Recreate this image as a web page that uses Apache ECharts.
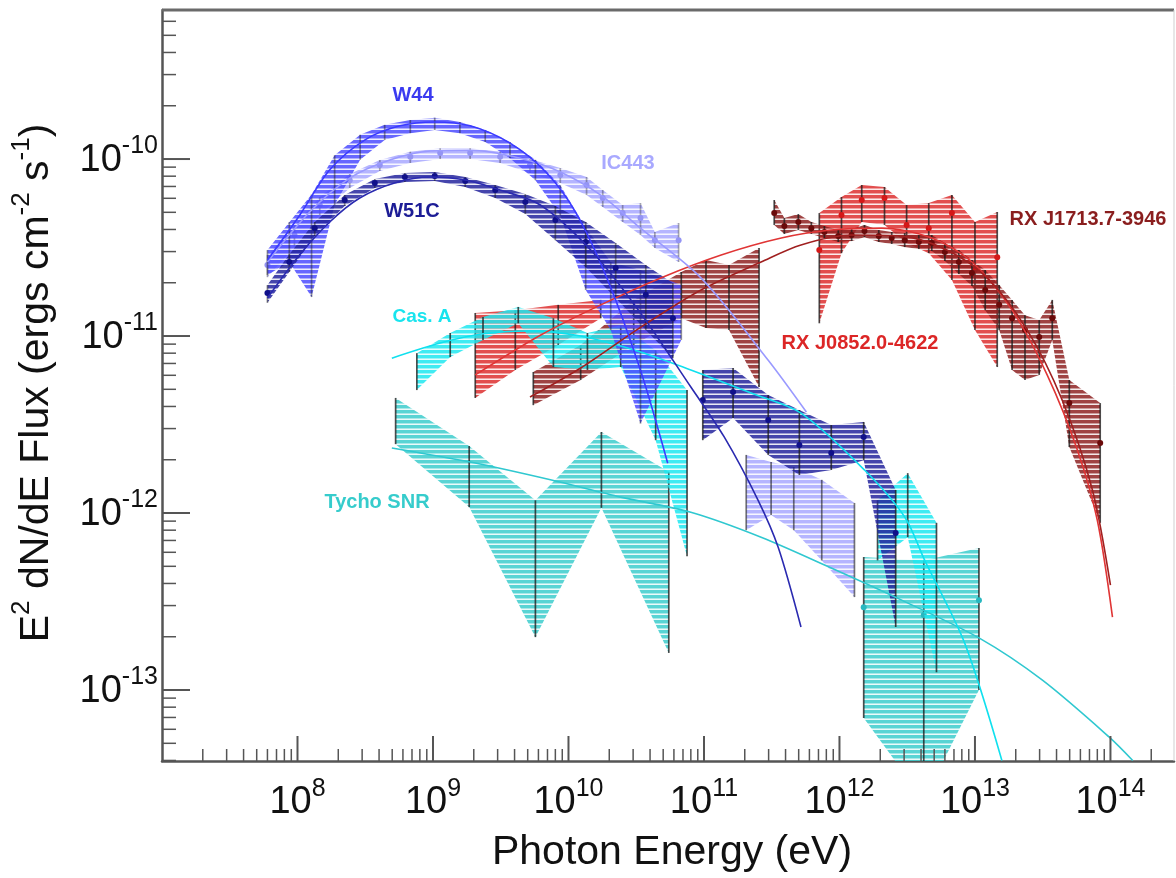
<!DOCTYPE html>
<html>
<head>
<meta charset="utf-8">
<title>Gamma-ray spectra of supernova remnants</title>
<script src="https://cdn.jsdelivr.net/npm/echarts@6/dist/echarts.min.js"></script>
<style>
  html, body { margin: 0; padding: 0; background: #ffffff; }
  #chart { width: 1176px; height: 878px; }
</style>
</head>
<body>
<div id="chart"></div>
<script>
// ---------- axis ranges ----------
const X_MIN = 1e7;
const X_MAX = Math.pow(10, 14.469);
const Y_MIN = Math.pow(10, -13.401);
const Y_MAX = Math.pow(10, -9.158);

// decade tick labels (exponents of 10)
const xTickExponents = [8, 9, 10, 11, 12, 13, 14];
const yTickExponents = [-10, -11, -12, -13];

// ---------- W44 (Fermi-LAT) ----------
const w44Energy = [6.0e7, 8.7e7, 1.27e8, 1.88e8, 2.9e8, 4.4e8, 6.8e8, 1.03e9, 1.58e9, 2.43e9, 3.7e9, 5.7e9, 8.7e9, 1.34e10, 2.05e10, 3.4e10, 6.8e10];
const w44Upper  = [3.06e-11, 4.4e-11, 6.3e-11, 1.05e-10, 1.37e-10, 1.56e-10, 1.66e-10, 1.71e-10, 1.62e-10, 1.46e-10, 1.25e-10, 9.9e-11, 7.1e-11, 4.1e-11, 2.62e-11, 2.36e-11, 1.94e-11];
const w44Lower  = [2.21e-11, 2.62e-11, 1.66e-11, 5.5e-11, 9.9e-11, 1.28e-10, 1.40e-10, 1.46e-10, 1.40e-10, 1.25e-10, 1.01e-10, 7.6e-11, 4.8e-11, 1.82e-11, 1.08e-11, 3.2e-12, 9.5e-12];
const w44ModelEnergy = [6.0e7, 1.035e8, 1.73e8, 3.13e8, 5.7e8, 1.03e9, 1.88e9, 3.7e9, 6.8e9, 1.13e10, 1.95e10, 3.4e10, 5.4e10];
const w44ModelFlux   = [2.69e-11, 4.8e-11, 8.7e-11, 1.28e-10, 1.54e-10, 1.62e-10, 1.54e-10, 1.23e-10, 8.45e-11, 5.0e-11, 2.07e-11, 6.4e-12, 1.91e-12];

// ---------- IC443 (Fermi-LAT + Cherenkov) ----------
const ic443Energy = [6.0e7, 9.5e7, 1.46e8, 2.43e8, 4.05e8, 6.8e8, 1.13e9, 1.88e9, 3.13e9, 5.2e9, 8.7e9, 1.36e10, 1.79e10, 2.51e10, 3.4e10, 4.34e10, 6.5e10];
const ic443Flux   = [2.52e-11, 3.72e-11, 5.5e-11, 7.6e-11, 9.25e-11, 1.03e-10, 1.08e-10, 1.08e-10, 1.03e-10, 9.25e-11, 8.12e-11, 7.13e-11, 6.02e-11, 4.95e-11, 4.64e-11, 3.48e-11, 3.48e-11];
const ic443Upper  = [2.87e-11, 4.24e-11, 6.1e-11, 8.23e-11, 9.87e-11, 1.10e-10, 1.15e-10, 1.15e-10, 1.10e-10, 1.0e-10, 8.89e-11, 7.91e-11, 6.68e-11, 5.5e-11, 5.64e-11, 3.87e-11, 4.35e-11];
const ic443Lower  = [2.15e-11, 3.18e-11, 4.83e-11, 6.86e-11, 8.56e-11, 9.5e-11, 1.0e-10, 1.0e-10, 9.5e-11, 8.33e-11, 7.32e-11, 6.26e-11, 5.36e-11, 4.41e-11, 3.72e-11, 3.14e-11, 2.62e-11];
const ic443TevEnergy = [2.05e11, 3.13e11, 4.6e11, 7.4e11, 1.29e12];
const ic443TevUpper  = [2.13e-12, 1.94e-12, 1.82e-12, 1.54e-12, 1.14e-12];
const ic443TevLower  = [8.0e-13, 9.75e-13, 8.0e-13, 5.4e-13, 3.35e-13];
const ic443ModelEnergy = [6.0e7, 1.23e8, 2.43e8, 4.8e8, 9.5e8, 1.88e9, 4.4e9, 8.7e9, 1.73e10, 3.4e10, 9.5e10, 2.98e11, 5.7e11];
const ic443ModelFlux   = [2.62e-11, 5.02e-11, 7.8e-11, 9.87e-11, 1.11e-10, 1.12e-10, 1.01e-10, 8.45e-11, 6.26e-11, 4.07e-11, 2.13e-11, 7.3e-12, 3.72e-12];

// ---------- W51C (Fermi-LAT + MAGIC) ----------
const w51cEnergy = [6.0e7, 8.7e7, 1.34e8, 2.23e8, 3.72e8, 6.2e8, 1.03e9, 1.73e9, 2.88e9, 4.8e9, 8.0e9, 1.34e10, 2.23e10, 3.72e10, 5.9e10];
const w51cFlux   = [1.75e-11, 2.62e-11, 4.07e-11, 5.87e-11, 7.32e-11, 7.91e-11, 8.02e-11, 7.51e-11, 6.68e-11, 5.71e-11, 4.52e-11, 3.40e-11, 2.42e-11, 1.71e-11, 1.26e-11];
const w51cUpper  = [1.94e-11, 2.90e-11, 4.41e-11, 6.26e-11, 7.71e-11, 8.33e-11, 8.45e-11, 7.91e-11, 7.13e-11, 6.34e-11, 5.43e-11, 4.41e-11, 3.35e-11, 2.52e-11, 1.99e-11];
const w51cLower  = [1.54e-11, 2.30e-11, 3.67e-11, 5.43e-11, 6.86e-11, 7.41e-11, 7.51e-11, 6.95e-11, 6.02e-11, 4.89e-11, 3.48e-11, 2.45e-11, 1.64e-11, 1.08e-11, 7.5e-12];
const w51cTevEnergy = [9.8e10, 1.64e11, 2.98e11, 5.06e11, 8.7e11, 1.51e12, 2.6e12];
const w51cTevFlux   = [4.35e-12, 4.83e-12, 3.35e-12, 2.42e-12, 2.18e-12, 2.69e-12, 7.7e-13];
const w51cTevUpper  = [6.43e-12, 6.6e-12, 4.64e-12, 3.82e-12, 3.14e-12, 3.27e-12, 1.35e-12];
const w51cTevLower  = [2.58e-12, 3.44e-12, 2.13e-12, 1.64e-12, 1.75e-12, 1.99e-12, 2.27e-13];
const w51cModelEnergy = [6.0e7, 1.035e8, 1.73e8, 2.88e8, 5.2e8, 9.5e8, 1.73e9, 3.13e9, 6.2e9, 1.46e10, 3.4e10, 8.0e10, 1.41e11, 2.51e11, 3.53e11, 5.2e11];
const w51cModelFlux   = [1.64e-11, 2.87e-11, 4.41e-11, 6.02e-11, 7.32e-11, 7.91e-11, 7.61e-11, 6.68e-11, 5.5e-11, 3.06e-11, 1.35e-11, 5.15e-12, 2.69e-12, 1.18e-12, 6.4e-13, 2.27e-13];

// ---------- Cas A ----------
const casAEnergy = [7.6e8, 1.34e9, 2.34e9, 4.26e9, 7.74e9, 1.38e10, 2.43e10, 4.4e10, 7.5e10];
const casAUpper  = [8.0e-12, 1.04e-11, 1.28e-11, 1.46e-11, 1.26e-11, 1.04e-11, 1.15e-11, 8.3e-12, 4.95e-12];
const casALower  = [4.95e-12, 7.6e-12, 9.5e-12, 1.18e-11, 6.68e-12, 6.43e-12, 6.68e-12, 2.58e-12, 5.7e-13];
const casATevEnergy = [1.91e12, 3.19e12, 5.2e12];
const casATevUpper  = [1.18e-12, 1.68e-12, 8.8e-13];
const casATevLower  = [5.4e-13, 7.3e-13, 1.26e-13];
const casAModelEnergy = [4.97e8, 1.13e9, 2.34e9, 5.2e9, 1.23e10, 3.4e10, 8.0e10, 2.23e11, 5.2e11, 1.53e12, 3.03e12, 4.26e12, 8.4e12, 1.58e13];
const casAModelFlux   = [7.5e-12, 9.13e-12, 1.03e-11, 1.07e-11, 1.0e-11, 8.13e-12, 6.43e-12, 4.76e-12, 3.67e-12, 1.75e-12, 9.5e-13, 5.4e-13, 1.84e-13, 4.0e-14];

// ---------- Tycho SNR ----------
const tychoEnergy = [5.3e8, 1.85e9, 5.7e9, 1.75e10, 5.5e10];
const tychoUpper  = [4.47e-12, 2.39e-12, 1.18e-12, 2.87e-12, 1.71e-12];
const tychoLower  = [2.45e-12, 1.08e-12, 1.99e-13, 1.07e-12, 1.62e-13];
const tychoTevEnergy = [1.51e12, 4.19e12, 1.07e13];
const tychoTevFlux   = [2.94e-13, 2.65e-13, 3.22e-13];
const tychoTevUpper  = [5.64e-13, 5.4e-13, 6.34e-13];
const tychoTevLower  = [6.95e-14, 2.39e-14, 1.0e-13];
const tychoModelEnergy = [4.97e8, 1.88e9, 7.36e9, 2.43e10, 8.0e10, 2.64e11, 8.7e11, 2.88e12, 1.07e13, 3.13e13, 9.8e13, 1.46e14];
const tychoModelFlux   = [2.33e-12, 1.94e-12, 1.54e-12, 1.23e-12, 1.01e-12, 7.3e-13, 4.89e-13, 3.22e-13, 1.97e-13, 1.14e-13, 5.42e-14, 4.0e-14];

// ---------- RX J0852.0-4622 ----------
const j0852Energy = [2.05e9, 4.05e9, 8.4e9, 1.73e10];
const j0852Upper  = [1.35e-11, 1.40e-11, 1.50e-11, 1.60e-11];
const j0852Lower  = [4.47e-12, 6.43e-12, 8.9e-12, 1.26e-11];
const j0852TevEnergy = [7.1e11, 1.035e12, 1.46e12, 2.15e12, 3.13e12, 4.56e12, 6.76e12, 1.0e13, 1.46e13];
const j0852TevFlux   = [3.06e-11, 4.83e-11, 5.87e-11, 6.02e-11, 4.24e-11, 4.07e-11, 4.95e-11, 2.36e-11, 2.79e-11];
const j0852TevUpper  = [4.95e-11, 6.1e-11, 7.13e-11, 6.95e-11, 5.5e-11, 5.64e-11, 6.26e-11, 4.41e-11, 5.02e-11];
const j0852TevLower  = [1.18e-11, 2.94e-11, 4.41e-11, 4.24e-11, 3.35e-11, 2.94e-11, 2.07e-11, 1.08e-11, 6.68e-12];
const j0852ModelEnergy = [2.05e9, 6.2e9, 1.73e10, 4.8e10, 1.34e11, 3.72e11, 8.7e11, 2.05e12, 4.8e12, 9.5e12, 1.88e13, 3.41e13, 5.7e13, 8.0e13, 1.035e14];
const j0852ModelFlux   = [6.03e-12, 1.01e-11, 1.50e-11, 2.13e-11, 2.87e-11, 3.58e-11, 3.97e-11, 4.07e-11, 3.58e-11, 2.62e-11, 1.40e-11, 6.03e-12, 2.27e-12, 9.1e-13, 2.58e-13];

// ---------- RX J1713.7-3946 ----------
const j1713Energy = [5.5e9, 1.23e10, 3.03e10, 6.8e10, 1.035e11, 1.53e11, 2.55e11];
const j1713Upper  = [6.26e-12, 8.9e-12, 1.60e-11, 2.30e-11, 2.69e-11, 2.52e-11, 3.14e-11];
const j1713Lower  = [4.07e-12, 5.64e-12, 8.9e-12, 1.26e-11, 1.11e-11, 1.08e-11, 5.15e-12];
const j1713TevEnergy = [3.30e11, 3.92e11, 4.97e11, 6.2e11, 7.74e11, 9.8e11, 1.23e12, 1.53e12, 1.95e12, 2.43e12, 3.03e12, 3.85e12, 4.8e12, 6.0e12, 7.6e12, 9.5e12, 1.19e13, 1.51e13, 1.88e13, 2.34e13, 2.98e13, 3.72e13, 4.97e13, 8.4e13];
const j1713TevFlux   = [4.95e-11, 4.18e-11, 4.41e-11, 4.07e-11, 3.87e-11, 3.67e-11, 3.72e-11, 3.92e-11, 3.67e-11, 3.58e-11, 3.48e-11, 3.40e-11, 3.35e-11, 2.98e-11, 2.62e-11, 2.27e-11, 1.82e-11, 1.50e-11, 1.26e-11, 1.08e-11, 9.87e-12, 1.26e-11, 4.18e-12, 2.49e-12];
const j1713TevUpper  = [5.87e-11, 4.64e-11, 4.89e-11, 4.41e-11, 4.18e-11, 3.97e-11, 4.02e-11, 4.24e-11, 3.97e-11, 3.87e-11, 3.82e-11, 3.72e-11, 3.72e-11, 3.35e-11, 3.06e-11, 2.69e-11, 2.36e-11, 1.94e-11, 1.60e-11, 1.31e-11, 1.23e-11, 1.60e-11, 5.64e-12, 4.18e-12];
const j1713TevLower  = [4.24e-11, 3.77e-11, 3.97e-11, 3.77e-11, 3.58e-11, 3.40e-11, 3.44e-11, 3.62e-11, 3.40e-11, 3.31e-11, 3.18e-11, 3.10e-11, 3.02e-11, 2.65e-11, 2.24e-11, 1.92e-11, 1.40e-11, 1.08e-11, 6.43e-12, 5.64e-12, 6.03e-12, 9.5e-12, 2.36e-12, 8.8e-13];
const j1713ModelEnergy = [5.2e9, 1.23e10, 3.4e10, 9.5e10, 2.64e11, 5.2e11, 1.23e12, 2.88e12, 6.2e12, 1.23e13, 2.43e13, 4.4e13, 7.36e13, 1.0e14];
const j1713ModelFlux   = [4.52e-12, 6.6e-12, 1.12e-11, 1.82e-11, 2.62e-11, 3.27e-11, 3.72e-11, 3.67e-11, 3.06e-11, 2.13e-11, 1.08e-11, 4.35e-12, 1.35e-12, 3.92e-13];

// ---------- styling ----------
const FONT = '"Liberation Sans", Arial, Helvetica, sans-serif';
const COLORS = {
  w44:   { band: '#4c4cff', line: '#3b3bff', dot: '#2b2bd8', text: '#3a3af0' },
  ic443: { band: '#a8a8ff', line: '#9a9aff', dot: '#9494f4', text: '#a9a9ff' },
  w51c:  { band: '#25259e', line: '#2a2ab0', dot: '#10108a', text: '#1d1d96' },
  casA:  { band: '#1ee8f0', line: '#10e0ee', dot: '#10d8e6', text: '#18e4ee' },
  tycho: { band: '#3ccccc', line: '#30c8d0', dot: '#28b8c0', text: '#36cccc' },
  j0852: { band: '#dd2f2f', line: '#e03535', dot: '#d41818', text: '#dc2626' },
  j1713: { band: '#8e2222', line: '#a02020', dot: '#6a0a0a', text: '#8a1e1e' }
};

// horizontally striped fill used for the error bands
const hatchCache = {};
function hatch(color) {
  if (hatchCache[color]) return hatchCache[color];
  const c = document.createElement('canvas');
  c.width = 8; c.height = 5;
  const g = c.getContext('2d');
  g.fillStyle = color;
  g.globalAlpha = 0.85; g.fillRect(0, 0, 8, 3);
  g.globalAlpha = 0.45; g.fillRect(0, 3, 8, 1);
  g.globalAlpha = 0.1;  g.fillRect(0, 4, 8, 1);
  hatchCache[color] = { image: c, repeat: 'repeat' };
  return hatchCache[color];
}

// error band (upper tips forward, lower tips back) + error bars + optional points
function bandSeries(name, energy, upper, lower, center, col, barOpacity) {
  const barAlpha = barOpacity == null ? 0.78 : barOpacity;
  return {
    type: 'custom',
    name: name,
    clip: true,
    z: 2,
    silent: true,
    data: energy.map((e, i) => [e, lower[i], upper[i]]),
    encode: { x: 0, y: [1, 2] },
    renderItem: function (params, api) {
      const i = params.dataIndex;
      const children = [];
      if (i === 0) {
        const pts = [];
        for (let k = 0; k < energy.length; k++) pts.push(api.coord([energy[k], upper[k]]));
        for (let k = energy.length - 1; k >= 0; k--) pts.push(api.coord([energy[k], lower[k]]));
        children.push({ type: 'polygon', shape: { points: pts }, style: { fill: hatch(col.band) } });
      }
      const top = api.coord([energy[i], upper[i]]);
      const bot = api.coord([energy[i], lower[i]]);
      children.push({
        type: 'line',
        shape: { x1: top[0], y1: top[1], x2: bot[0], y2: bot[1] },
        style: { stroke: '#1c1c1c', lineWidth: 1.7, opacity: barAlpha }
      });
      if (center) {
        const c = api.coord([energy[i], center[i]]);
        children.push({ type: 'circle', shape: { cx: c[0], cy: c[1], r: 3 }, style: { fill: col.dot } });
      }
      return { type: 'group', children: children };
    }
  };
}

function modelSeries(name, energy, flux, col) {
  return {
    type: 'line',
    name: name,
    z: 3,
    silent: true,
    smooth: 0.3,
    symbol: 'none',
    showSymbol: false,
    clip: true,
    lineStyle: { color: col.line, width: 1.6 },
    data: energy.map((e, i) => [e, flux[i]])
  };
}

const chart = echarts.init(document.getElementById('chart'), null, { renderer: 'canvas' });

const hiddenAxisParts = {
  axisTick: { show: false },
  axisLabel: { show: false },
  splitLine: { show: false },
  minorTick: { show: false },
  minorSplitLine: { show: false }
};

const option = {
  animation: false,
  backgroundColor: '#ffffff',
  grid: { left: 162, right: 2, top: 10, bottom: 117, containLabel: false },
  xAxis: Object.assign({
    type: 'log', logBase: 10, min: X_MIN, max: X_MAX,
    axisLine: { show: true, onZero: false, lineStyle: { color: '#555555', width: 2.5 } }
  }, hiddenAxisParts),
  yAxis: Object.assign({
    type: 'log', logBase: 10, min: Y_MIN, max: Y_MAX,
    axisLine: { show: true, onZero: false, lineStyle: { color: '#555555', width: 2.5 } }
  }, hiddenAxisParts),
  series: [
    bandSeries('Tycho SNR', tychoEnergy, tychoUpper, tychoLower, null, COLORS.tycho),
    bandSeries('Tycho SNR TeV', tychoTevEnergy, tychoTevUpper, tychoTevLower, tychoTevFlux, COLORS.tycho),
    bandSeries('RX J0852.0-4622', j0852Energy, j0852Upper, j0852Lower, null, COLORS.j0852),
    bandSeries('RX J1713.7-3946', j1713Energy, j1713Upper, j1713Lower, null, COLORS.j1713),
    bandSeries('Cas A', casAEnergy, casAUpper, casALower, null, COLORS.casA),
    bandSeries('RX J0852.0-4622 TeV', j0852TevEnergy, j0852TevUpper, j0852TevLower, j0852TevFlux, COLORS.j0852),
    bandSeries('RX J1713.7-3946 TeV', j1713TevEnergy, j1713TevUpper, j1713TevLower, j1713TevFlux, COLORS.j1713),
    bandSeries('IC443', ic443Energy, ic443Upper, ic443Lower, ic443Flux, COLORS.ic443, 0.35),
    bandSeries('IC443 TeV', ic443TevEnergy, ic443TevUpper, ic443TevLower, null, COLORS.ic443, 0.6),
    bandSeries('W44', w44Energy, w44Upper, w44Lower, null, COLORS.w44, 0.45),
    bandSeries('W51C', w51cEnergy, w51cUpper, w51cLower, w51cFlux, COLORS.w51c, 0.5),
    bandSeries('Cas A TeV', casATevEnergy, casATevUpper, casATevLower, null, COLORS.casA),
    bandSeries('W51C TeV', w51cTevEnergy, w51cTevUpper, w51cTevLower, w51cTevFlux, COLORS.w51c),

    modelSeries('Tycho SNR model', tychoModelEnergy, tychoModelFlux, COLORS.tycho),
    modelSeries('Cas A model', casAModelEnergy, casAModelFlux, COLORS.casA),
    modelSeries('RX J0852.0-4622 model', j0852ModelEnergy, j0852ModelFlux, COLORS.j0852),
    modelSeries('RX J1713.7-3946 model', j1713ModelEnergy, j1713ModelFlux, COLORS.j1713),
    modelSeries('IC443 model', ic443ModelEnergy, ic443ModelFlux, COLORS.ic443),
    modelSeries('W44 model', w44ModelEnergy, w44ModelFlux, COLORS.w44),
    modelSeries('W51C model', w51cModelEnergy, w51cModelFlux, COLORS.w51c)
  ]
};
chart.setOption(option);

// ---------- axes decorations: frame, log ticks, labels, titles ----------
const measureCtx = document.createElement('canvas').getContext('2d');
function textWidth(str, size, weight) {
  measureCtx.font = (weight || 'normal') + ' ' + size + 'px ' + FONT;
  return measureCtx.measureText(str).width;
}
function gLine(x1, y1, x2, y2, color, width) {
  return { type: 'line', silent: true, z: 50, shape: { x1: x1, y1: y1, x2: x2, y2: y2 }, style: { stroke: color, lineWidth: width } };
}
function gText(x, y, str, size, color, align, vAlign, weight) {
  const w = weight || 'normal';
  return {
    type: 'text', silent: true, z: 60, x: x, y: y,
    style: {
      text: str, fill: color,
      font: w + ' ' + size + 'px ' + FONT,
      fontSize: size, fontFamily: FONT, fontWeight: w,
      textAlign: align, textVerticalAlign: vAlign,
      align: align, verticalAlign: vAlign
    }
  };
}

const toPx = (x, y) => chart.convertToPixel({ gridIndex: 0 }, [x, y]);
const bl = toPx(X_MIN, Y_MIN);
const tr = toPx(X_MAX, Y_MAX);
const graphics = [];

// top and right frame
graphics.push(gLine(bl[0], tr[1], tr[0], tr[1], '#6a6a6a', 3));
graphics.push(gLine(tr[0], tr[1], tr[0], bl[1], '#cfcfcf', 1));

// x ticks (decades + 2..9 minors), pointing into the plot
for (let d = 7; d <= 14; d++) {
  for (let m = 1; m <= 9; m++) {
    const v = m * Math.pow(10, d);
    if (v <= X_MIN * 1.001 || v > X_MAX) continue;
    const p = toPx(v, Y_MIN);
    const major = m === 1;
    graphics.push(gLine(p[0], bl[1], p[0], bl[1] - (major ? 25 : 12), '#555555', major ? 2 : 1.5));
  }
}
// y ticks
for (let d = -14; d <= -10; d++) {
  for (let m = 1; m <= 9; m++) {
    const v = m * Math.pow(10, d);
    if (v <= Y_MIN * 1.001 || v > Y_MAX) continue;
    const p = toPx(X_MIN, v);
    const major = m === 1;
    graphics.push(gLine(bl[0], p[1], bl[0] + (major ? 28 : 14), p[1], '#555555', major ? 2 : 1.5));
  }
}

// decade labels 10^n
const BASE_SIZE = 38, SUP_SIZE = 25, LABEL_COLOR = '#111111';
xTickExponents.forEach(function (e) {
  const p = toPx(Math.pow(10, e), Y_MIN);
  const wb = textWidth('10', BASE_SIZE);
  const ws = textWidth(String(e), SUP_SIZE);
  const left = p[0] - (wb + ws) / 2;
  graphics.push(gText(left, bl[1] + 42, '10', BASE_SIZE, LABEL_COLOR, 'left', 'middle'));
  graphics.push(gText(left + wb, bl[1] + 28, String(e), SUP_SIZE, LABEL_COLOR, 'left', 'middle'));
});
yTickExponents.forEach(function (e) {
  const p = toPx(X_MIN, Math.pow(10, e));
  const right = bl[0] - 4;
  const ws = textWidth(String(e), SUP_SIZE);
  graphics.push(gText(right, p[1] - 13, String(e), SUP_SIZE, LABEL_COLOR, 'right', 'middle'));
  graphics.push(gText(right - ws, p[1] + 1, '10', BASE_SIZE, LABEL_COLOR, 'right', 'middle'));
});

// x axis title
graphics.push(gText(672, 853, 'Photon Energy (eV)', 41, LABEL_COLOR, 'center', 'middle'));

// y axis title, rotated, with superscripts
(function () {
  const TITLE_SIZE = 41, TITLE_SUP = 26;
  const pieces = [
    ['E', false], ['2', true], [' dN/dE Flux (ergs cm', false], ['-2', true],
    [' s', false], ['-1', true], [')', false]
  ];
  const widths = pieces.map(p => textWidth(p[0], p[1] ? TITLE_SUP : TITLE_SIZE));
  const total = widths.reduce((a, b) => a + b, 0);
  let cursor = -total / 2;
  const children = [];
  pieces.forEach(function (p, i) {
    children.push(gText(cursor, p[1] ? -15 : 0, p[0], p[1] ? TITLE_SUP : TITLE_SIZE, LABEL_COLOR, 'left', 'middle'));
    cursor += widths[i];
  });
  graphics.push({ type: 'group', x: 37, y: 383, rotation: Math.PI / 2, children: children });
})();

// source names
const sourceLabels = [
  { text: 'W44',             x: 413,  y: 95,  color: COLORS.w44.text,   size: 20 },
  { text: 'IC443',           x: 628,  y: 163, color: COLORS.ic443.text, size: 20 },
  { text: 'W51C',            x: 412,  y: 211, color: COLORS.w51c.text,  size: 20 },
  { text: 'Cas. A',          x: 422,  y: 317, color: COLORS.casA.text,  size: 19 },
  { text: 'Tycho SNR',       x: 377,  y: 502, color: COLORS.tycho.text, size: 20 },
  { text: 'RX J0852.0-4622', x: 860,  y: 343, color: COLORS.j0852.text, size: 20 },
  { text: 'RX J1713.7-3946', x: 1088, y: 219, color: COLORS.j1713.text, size: 20 }
];
sourceLabels.forEach(function (l) {
  graphics.push(gText(l.x, l.y, l.text, l.size, l.color, 'center', 'middle', 'bold'));
});

chart.setOption({ graphic: { elements: graphics } });
</script>
</body>
</html>
